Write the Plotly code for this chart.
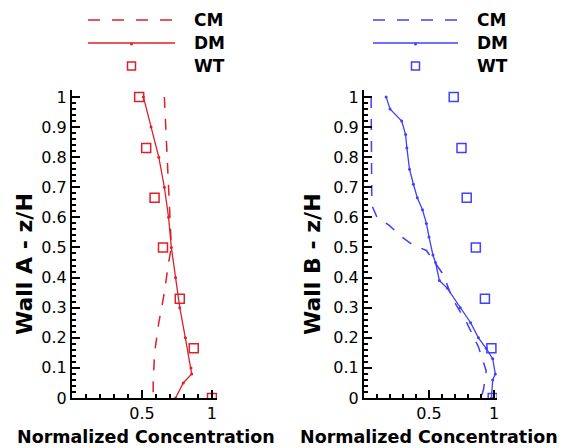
import plotly.graph_objects as go

# ---------------- data ----------------
z_wt = [1.0, 0.83, 0.665, 0.5, 0.33, 0.165, 0.0]

# Wall A
a_cm_x = [0.66, 0.67, 0.68, 0.69, 0.70, 0.71, 0.69, 0.66, 0.62, 0.59, 0.58, 0.58]
a_cm_z = [1.0, 0.9, 0.8, 0.7, 0.6, 0.5, 0.45, 0.35, 0.25, 0.15, 0.05, 0.0]
a_dm_x = [0.51, 0.565, 0.62, 0.66, 0.69, 0.71, 0.74, 0.77, 0.81, 0.85, 0.855, 0.795, 0.74]
a_dm_z = [1.0, 0.9, 0.8, 0.7, 0.6, 0.5, 0.4, 0.3, 0.2, 0.1, 0.08, 0.05, 0.0]
a_wt_x = [0.48, 0.53, 0.59, 0.65, 0.77, 0.87, 1.0]

# Wall B
b_cm_x = [0.055, 0.055, 0.06, 0.10, 0.19, 0.29, 0.37, 0.48, 0.61, 0.68, 0.79, 0.88, 0.94, 0.92, 0.90]
b_cm_z = [1.0, 0.7, 0.64, 0.6, 0.575, 0.535, 0.51, 0.49, 0.41, 0.33, 0.25, 0.17, 0.09, 0.03, 0.0]
b_dm_x = [0.17, 0.20, 0.29, 0.32, 0.33, 0.35, 0.38, 0.41, 0.45, 0.48, 0.50, 0.53, 0.55, 0.58,
          0.64, 0.74, 0.82, 0.88, 0.94, 0.99, 1.01, 0.99, 0.98]
b_dm_z = [1.0, 0.96, 0.92, 0.875, 0.83, 0.76, 0.71, 0.665, 0.625, 0.58, 0.535, 0.475, 0.45, 0.39,
          0.365, 0.30, 0.25, 0.20, 0.165, 0.13, 0.08, 0.06, 0.0]
b_wt_x = [0.69, 0.75, 0.79, 0.86, 0.93, 0.98, 0.99]

series_names = ["CM", "DM", "WT"]
y_titles = ["Wall A - z/H", "Wall B - z/H"]
x_title = "Normalized Concentration"
y_tickvals = [0, 0.1, 0.2, 0.3, 0.4, 0.5, 0.6, 0.7, 0.8, 0.9, 1.0]
y_ticktext = ["0", "0.1", "0.2", "0.3", "0.4", "0.5", "0.6", "0.7", "0.8", "0.9", "1"]
x_tickvals = [0.5, 1.0]
x_ticktext = ["0.5", "1"]

RED = "rgb(222,32,40)"
BLUE = "rgb(64,64,255)"

W, H = 562, 448
FONT = "DejaVu Sans, sans-serif"


def px(x):
    return x / W


def py(y):
    return 1 - y / H


fig = go.Figure()

panels = [
    dict(ax="x", ay="y", color=RED, cm=(a_cm_x, a_cm_z), dm=(a_dm_x, a_dm_z), wt=a_wt_x),
    dict(ax="x2", ay="y2", color=BLUE, cm=(b_cm_x, b_cm_z), dm=(b_dm_x, b_dm_z), wt=b_wt_x),
]
for p in panels:
    c = p["color"]
    fig.add_trace(go.Scatter(x=p["cm"][0], y=p["cm"][1], mode="lines", name="CM",
                             line=dict(color=c, width=1.5, dash="11px,11px"),
                             xaxis=p["ax"], yaxis=p["ay"], showlegend=False))
    fig.add_trace(go.Scatter(x=p["dm"][0], y=p["dm"][1], mode="lines+markers", name="DM",
                             line=dict(color=c, width=1.3), marker=dict(color=c, size=3),
                             xaxis=p["ax"], yaxis=p["ay"], showlegend=False))
    fig.add_trace(go.Scatter(x=p["wt"], y=z_wt, mode="markers", name="WT",
                             marker=dict(symbol="square-open", color=c, size=9,
                                         line=dict(width=1.5, color=c)),
                             xaxis=p["ax"], yaxis=p["ay"], showlegend=False))

axis_common = dict(showgrid=False, zeroline=False, showline=True, linecolor="black",
                   linewidth=2, ticks="inside", tickcolor="black", tickwidth=1.5,
                   automargin=False,
                   tickfont=dict(family=FONT, size=16, color="black"))
minor_x = dict(dtick=0.1, tick0=0, ticks="inside", ticklen=4, tickcolor="black", tickwidth=1.5)
minor_y = dict(dtick=0.02, tick0=0, ticks="inside", ticklen=4, tickcolor="black", tickwidth=1.5)

ydom = [50 / H, 358 / H]
fig.update_layout(
    width=W, height=H,
    margin=dict(l=0, r=0, t=0, b=0),
    paper_bgcolor="white", plot_bgcolor="white",
    xaxis=dict(domain=[px(72), px(217)], range=[0, 1.036], anchor="y",
               tickvals=x_tickvals, ticktext=x_ticktext, ticklen=8, minor=minor_x, **axis_common),
    yaxis=dict(domain=ydom, range=[0, 1.023], anchor="x",
               tickvals=y_tickvals, ticktext=y_ticktext, ticklen=8, minor=minor_y, **axis_common),
    xaxis2=dict(domain=[px(364), px(497)], range=[0, 1.023], anchor="y2",
                tickvals=x_tickvals, ticktext=x_ticktext, ticklen=8, minor=minor_x, **axis_common),
    yaxis2=dict(domain=ydom, range=[0, 1.023], anchor="x2",
                tickvals=y_tickvals, ticktext=y_ticktext, ticklen=8, minor=minor_y, **axis_common),
)

shapes = []
annotations = []

# axis titles
for cx, ycx, yt in [(146, 24, y_titles[0]), (429, 312, y_titles[1])]:
    annotations.append(dict(text="<b>%s</b>" % x_title, x=px(cx), y=py(437), xref="paper", yref="paper",
                            showarrow=False, font=dict(family=FONT, size=17.5, color="black"),
                            xanchor="center", yanchor="middle"))
    annotations.append(dict(text="<b>%s</b>" % yt, x=px(ycx), y=py(264), xref="paper", yref="paper",
                            showarrow=False, font=dict(family=FONT, size=22, color="black"),
                            textangle=-90, xanchor="center", yanchor="middle"))

# legends
legend_rows = [20, 43, 66]
for x0, x1, tx, c in [(88, 175, 192, RED), (373, 458, 475, BLUE)]:
    mid = (x0 + x1) / 2
    shapes.append(dict(type="line", xref="paper", yref="paper", x0=px(x0), x1=px(x1),
                       y0=py(legend_rows[0]), y1=py(legend_rows[0]),
                       line=dict(color=c, width=1.5, dash="12px,12px")))
    shapes.append(dict(type="line", xref="paper", yref="paper", x0=px(x0), x1=px(x1),
                       y0=py(legend_rows[1]), y1=py(legend_rows[1]),
                       line=dict(color=c, width=1.5)))
    shapes.append(dict(type="circle", xref="paper", yref="paper", x0=px(mid - 1.5), x1=px(mid + 1.5),
                       y0=py(legend_rows[1] + 2.5), y1=py(legend_rows[1] - 0.5),
                       fillcolor=c, line=dict(color=c, width=0)))
    shapes.append(dict(type="rect", xref="paper", yref="paper", x0=px(mid - 4), x1=px(mid + 4),
                       y0=py(legend_rows[2] + 4), y1=py(legend_rows[2] - 4),
                       line=dict(color=c, width=1.5)))
    for name, ry in zip(series_names, legend_rows):
        annotations.append(dict(text="<b>%s</b>" % name, x=px(tx), y=py(ry), xref="paper", yref="paper",
                                showarrow=False, font=dict(family=FONT, size=17, color="black"),
                                xanchor="left", yanchor="middle"))

fig.update_layout(shapes=shapes, annotations=annotations)
fig.write_html("out.html", config={"displayModeBar": False},
               post_script="document.body.style.margin='0';")
